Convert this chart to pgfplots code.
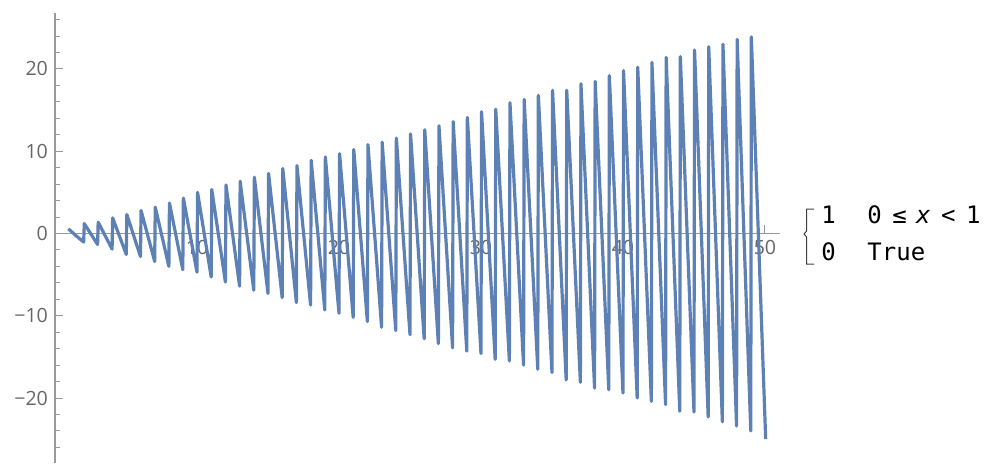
\documentclass[border=0pt]{standalone}
\usepackage{pgfplots}
\pgfplotsset{compat=1.18}
\usepackage{fontspec}
\setmainfont{Open Sans}
\newfontfamily\codefont{DejaVu Sans Mono}
\definecolor{mblue}{rgb}{0.368,0.507,0.710}
\definecolor{axgray}{rgb}{0.60,0.60,0.60}
\definecolor{lblgray}{rgb}{0.40,0.40,0.40}

\begin{document}
\begin{tikzpicture}
\path[use as bounding box] (0pt,0pt) rectangle (500pt,-232.5pt);
\begin{axis}[
    at={(27.5pt,-231.5pt)}, anchor=south west,
    scale only axis,
    width=362.5pt, height=225pt,
    xmin=0, xmax=51.06,
    ymin=-27.9, ymax=26.8,
    axis lines=middle,
    axis line style={-, axgray, line width=0.6pt},
    tick style={axgray, line width=0.5pt},
    tick align=inside,
    major tick length=4pt,
    minor tick length=2.5pt,
    xtick={10,20,30,40,50},
    xticklabels={10,20,30,40,50},
    minor xtick={2,4,...,50},
    ytick={-20,-10,0,10,20},
    yticklabels={−20,−10,0,10,20},
    minor ytick={-26,-24,...,26},
    hide obscured x ticks=false,
    hide obscured y ticks=false,
    ticklabel style={font=\fontsize{9.8}{12}\selectfont, text=lblgray},
    clip=false,
]
\addplot[mblue, line width=1.6pt, line join=round] coordinates {
    (0.94,0.57) (1.50,-0.30)
    (2.02,-1.05) (2.06,1.20)
    (3.00,-1.34) (3.04,1.37)
    (4.02,-1.90) (4.06,1.90)
    (5.02,-2.55) (5.06,2.30)
    (6.02,-2.80) (6.06,2.80)
    (7.02,-3.40) (7.06,3.20)
    (8.02,-4.00) (8.06,3.70)
    (9.00,-4.40) (9.04,4.30)
    (10.00,-4.70) (10.04,5.00)
    (11.00,-5.30) (11.04,5.35)
    (12.00,-5.90) (12.04,5.90)
    (13.00,-6.40) (13.04,6.35)
    (14.00,-6.90) (14.04,6.85)
    (15.00,-7.30) (15.04,7.30)
    (16.00,-7.80) (16.04,7.90)
    (17.00,-8.40) (17.04,8.25)
    (18.00,-8.70) (18.04,8.90)
    (19.00,-9.30) (19.04,9.30)
    (20.00,-9.70) (20.04,9.70)
    (21.00,-10.20) (21.04,10.20)
    (22.00,-10.70) (22.04,10.80)
    (23.00,-11.40) (23.04,11.10)
    (24.00,-11.80) (24.04,11.60)
    (25.00,-12.30) (25.04,12.10)
    (26.00,-12.80) (26.04,12.60)
    (27.00,-13.40) (27.04,13.10)
    (28.00,-13.90) (28.04,13.60)
    (29.00,-14.30) (29.04,14.10)
    (30.00,-14.60) (30.04,14.80)
    (31.00,-15.30) (31.04,15.10)
    (32.00,-15.50) (32.04,15.90)
    (33.00,-16.00) (33.04,16.30)
    (34.00,-16.50) (34.04,16.80)
    (35.00,-16.90) (35.04,17.40)
    (36.00,-17.80) (36.04,17.40)
    (37.00,-18.10) (37.04,18.20)
    (38.00,-18.80) (38.04,18.50)
    (39.00,-19.00) (39.04,19.20)
    (40.00,-19.40) (40.04,19.80)
    (41.00,-20.00) (41.04,20.20)
    (42.00,-20.40) (42.04,20.80)
    (43.00,-20.80) (43.04,21.40)
    (44.00,-21.60) (44.04,21.50)
    (45.00,-21.70) (45.04,22.30)
    (46.00,-22.30) (46.04,22.70)
    (47.00,-22.90) (47.04,23.00)
    (48.00,-23.40) (48.04,23.60)
    (49.00,-24.00) (49.04,23.90)
    (50.05,-25.00)
};
\end{axis}
% piecewise legend on the right
\draw[black!75, line width=0.5pt] (407pt,-104.5pt) -- (403.3pt,-104.5pt) -- (403.3pt,-115.5pt)
    -- (402pt,-117pt) -- (403.3pt,-118.5pt) -- (403.3pt,-132pt) -- (407pt,-132pt);
\begin{scope}[every node/.style={inner sep=0pt, anchor=base west,
    font=\codefont\fontsize{12}{14}\selectfont}]
\node at (410.5pt,-111.5pt) {1};
\node at (433.5pt,-111.5pt) {0\hspace{5.3pt}≤\hspace{4.6pt}{\itshape x}\hspace{5.3pt}<\hspace{5.3pt}1};
\node at (410.5pt,-130pt) {0};
\node at (433.5pt,-130pt) {True};
\end{scope}
\end{tikzpicture}
\end{document}
